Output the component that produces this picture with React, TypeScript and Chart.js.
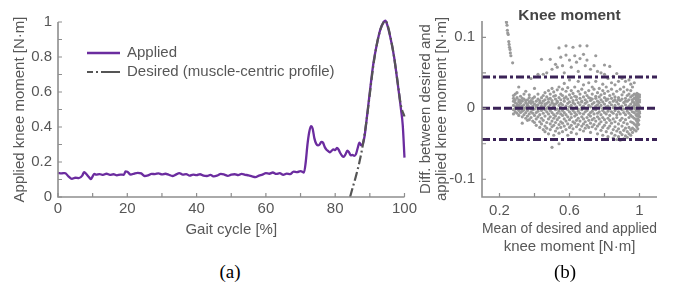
import React, { useEffect, useRef } from 'react';
import { Chart, registerables } from 'chart.js';

Chart.register(...registerables);

const SANS = "'Liberation Sans', Arial, sans-serif";
const TEXT = '#575757';
const AXIS = '#8e8e8e';
const PURPLE = '#6B2C9F';
const DARK = '#3B2357';
const GREY_LINE = '#555555';
const DOTS = '#9a9a9a';

// ---------- (a) knee moment over the gait cycle ----------
const gaitCycle = [
  0, 1, 2, 3, 4, 5, 6, 7, 7.5, 8, 9, 9.5, 10, 10.5, 11, 12, 13, 14, 15, 16, 17, 18, 19, 19.5, 20,
  21, 22, 23, 24, 25, 26, 27, 28, 29, 30, 31, 32, 33, 34, 35, 36, 37, 38, 39, 40, 41, 42, 43, 44,
  45, 46, 47, 48, 49, 50, 51, 52, 53, 54, 55, 56, 57, 58, 59, 60, 61, 62, 63, 64, 65, 66, 67, 68,
  69, 70, 71, 71.5, 72, 72.5, 73, 73.5, 74, 74.5, 75, 75.5, 76, 76.5, 77, 77.5, 78, 78.5, 79, 79.5,
  80, 80.5, 81, 81.5, 82, 82.5, 83, 83.5, 84, 84.5, 85, 85.5, 86, 86.5, 87, 87.5, 88, 88.5, 89, 90,
  91, 92, 93, 94, 94.5, 95, 96, 97, 98, 99, 99.5, 100,
];
const appliedMoment = [
  0.138, 0.135, 0.137, 0.118, 0.104, 0.11, 0.108, 0.122, 0.142, 0.135, 0.112, 0.102, 0.118, 0.132, 0.128,
  0.131, 0.126, 0.133, 0.127, 0.13, 0.124, 0.128, 0.127, 0.146, 0.144,
  0.128, 0.134, 0.138, 0.135, 0.12, 0.124, 0.132, 0.131, 0.135, 0.129, 0.133, 0.127, 0.12, 0.128, 0.137,
  0.128, 0.131, 0.122, 0.128, 0.125, 0.13, 0.122, 0.12, 0.126,
  0.118, 0.123, 0.132, 0.128, 0.121, 0.128, 0.13, 0.125, 0.132, 0.127, 0.124, 0.118, 0.114, 0.122, 0.128,
  0.136, 0.133, 0.14, 0.132, 0.136, 0.127, 0.134, 0.131, 0.145,
  0.142, 0.148, 0.14, 0.2, 0.3, 0.37, 0.405, 0.39, 0.335, 0.305, 0.295, 0.3, 0.315, 0.31, 0.285, 0.27,
  0.262, 0.255, 0.265, 0.272,
  0.268, 0.28, 0.27, 0.25, 0.235, 0.23, 0.245, 0.265, 0.255, 0.238, 0.24, 0.235, 0.245, 0.28, 0.31,
  0.295, 0.305, 0.35, 0.43, 0.6,
  0.76, 0.87, 0.955, 1.0, 1.008, 0.985, 0.905, 0.8, 0.655, 0.5, 0.41, 0.225,
];
const desiredCycle = [84.3, 85, 86, 87, 88, 89, 90, 91, 92, 93, 94, 94.5, 95, 96, 97, 98, 99, 100];
const desiredMoment = [0, 0.05, 0.12, 0.2, 0.3, 0.43, 0.59, 0.75, 0.87, 0.955, 1.0, 1.007, 0.99, 0.91, 0.8, 0.66, 0.52, 0.46];

const gaitTickMarks = [0, 10, 20, 30, 40, 50, 60, 70, 80, 90, 100];
const momentTickMarks = [0, 0.1, 0.2, 0.3, 0.4, 0.5, 0.6, 0.7, 0.8, 0.9, 1];
const legendLabels = ['Applied', 'Desired (muscle-centric profile)'];

// ---------- (b) Bland-Altman: difference vs mean ----------
const streakMean = [0.238, 0.24, 0.243, 0.245, 0.247, 0.25, 0.253, 0.255, 0.257, 0.26, 0.262, 0.265, 0.275];
const streakDiff = [0.124, 0.121, 0.117, 0.11, 0.106, 0.104, 0.094, 0.09, 0.086, 0.083, 0.078, 0.074, 0.064];

// mean of desired and applied [N·m] for each column of the cloud
const cloudMean = [
  0.28, 0.29, 0.3, 0.31, 0.32, 0.33, 0.34, 0.35, 0.36, 0.37, 0.38, 0.39, 0.4, 0.41, 0.42, 0.43, 0.44,
  0.45, 0.46, 0.47, 0.48, 0.49, 0.5, 0.51, 0.52, 0.53, 0.54, 0.55, 0.56, 0.57, 0.58, 0.59, 0.6, 0.61,
  0.62, 0.63, 0.64, 0.65, 0.66, 0.67, 0.68, 0.69, 0.7, 0.71, 0.72, 0.73, 0.74, 0.75, 0.76, 0.77, 0.78,
  0.79, 0.8, 0.81, 0.82, 0.83, 0.84, 0.85, 0.86, 0.87, 0.88, 0.89, 0.9, 0.91, 0.92, 0.93, 0.94, 0.95,
  0.96, 0.97, 0.98, 0.985, 0.99, 0.995, 1.0,
];
// differences in 10^-3 N·m for each column above
const cloudDiffMilli: number[][] = [
  [18, 10, 4, -2, -8, 14], [20, 8, 2, -5, 12, -1], [15, 6, 0, -7, 22, 3], [12, 4, -3, -10, 9, 30],
  [17, 7, -1, -6, 2, 11], [10, 3, -4, -12, 14, -21], [13, 5, -2, -9, 20, 0], [8, 1, -6, -14, 11, 24],
  [12, 4, -3, -11, 6, -17], [9, 2, -8, -16, 15, 19], [11, 0, -5, -13, 7, 42], [14, 3, -7, -18, 9, -2],
  [6, -1, -10, -20, 16, 28], [10, 2, -6, -15, 4, -24], [13, 5, -4, -12, 20, 48, -1], [8, 0, -9, -19, 11, -27],
  [15, 3, -3, -14, 7, 69, -22],
  [10, 1, -7, -17, 18, -30, 48], [12, 4, -2, -11, -25, 22, 6, -33], [16, 7, -5, -20, 0, -28, 50],
  [9, 2, -8, -15, 25, -36, 13], [14, 5, -3, -12, -22, -30, 20, 69], [11, 0, -6, -18, -26, 28, -55, 8, 55],
  [17, 3, -9, -14, -24, -38, 23, 6], [13, 6, -2, -11, -20, -32, 62, 18], [8, -1, -7, -16, -28, 26, 10, 58],
  [15, 4, -4, -13, -23, -35, -50, 30, 85], [12, 1, -8, -19, -27, 20, 7, 72], [18, 5, -3, -10, -21, -33, 27, 60],
  [10, 0, -6, -15, -25, 14, 50, 35], [16, 3, -9, -18, -30, 24, 75, 88], [13, 7, -2, -12, -22, -38, 29],
  [9, 2, -5, -16, -27, 19, 68, 40], [15, 4, -8, -13, -24, -34, 25, 58],
  [11, 0, -3, -19, -29, 21, 86, 8], [17, 6, -6, -11, -21, 30, 74], [12, 2, -9, -17, -26, -36, 65, 16],
  [8, -1, -4, -14, -23, 24, 52, 38], [14, 5, -7, -18, -30, 20, 70, 88], [10, 1, -2, -12, -25, 27, 9],
  [16, 3, -8, -15, -22, -32, 76, 33], [12, 7, -5, -19, -28, 22, 60], [9, 0, -3, -13, -24, 18, 88, 68],
  [15, 4, -9, -17, -27, 25, 36], [11, 2, -6, -11, -21, -34, 55, 14], [13, 6, -4, -16, -26, 20, 30],
  [8, -1, -8, -14, -23, 27, 60], [14, 3, -2, -18, -29, 17, 74, 38], [10, 5, -7, -12, -25, -36, 22, 52],
  [16, 1, -5, -15, -22, 28, 8], [12, 4, -9, -19, -31, 19, 50],
  [9, 0, -3, -13, -27, -38, 25, 34], [15, 6, -6, -16, -24, 21, 61, 48], [11, 2, -8, -20, -33, 13, 30],
  [13, 3, -4, -14, -28, -40, 24, 42], [8, -1, -10, -17, -25, 18, 59], [14, 5, -5, -21, -35, 27, 36],
  [10, 1, -7, -15, -30, -42, 20, 45], [12, 4, -3, -19, -26, -38, 16, 33], [9, 0, -9, -13, -32, -44, 24, 49],
  [15, 6, -5, -22, -29, -40, 12, 38], [11, 2, -8, -17, -34, -45, 27], [13, 3, -2, -14, -25, -37, 19, 42],
  [8, -1, -6, -20, -31, -43, 23, 30], [14, 5, -9, -16, -28, -39, 10, 38], [10, 1, -4, -22, -33, -41, 26, 18],
  [12, 3, -7, -13, -27, -36, 20, 40], [16, 6, -2, -10, -19, -30, 25, -38, 34],
  [18, 9, 2, -5, -12, -20, -28, 12, -34, 30], [20, 14, 8, 0, -6, -14, -22, -30, 4, 36],
  [19, 12, 5, -2, -9, -16, -24, -32, 16, 0], [21, 15, 7, 1, -4, -11, -18, -26, 10],
  [20, 13, 6, -1, -8, -15, -21, -29, 17, 3], [18, 11, 4, -3, -10, -17, -23, 9], [16, 9, 2, -5, -12, 19, -7, 12],
];

const upperLimit = 0.044;
const meanDifference = 0;
const lowerLimit = -0.044;
const meanTickLabels = [0.2, 0.6, 1];
const diffTickLabels = [-0.1, 0, 0.1];
const meanTickMarks = [0.2, 0.4, 0.6, 0.8, 1];
const diffTickMarks = [-0.1, -0.05, 0, 0.05, 0.1];

const fmt = (v: any) => String(Math.round(Number(v) * 100) / 100);

// ---------- plugins ----------
const matlabAxes = {
  id: 'matlabAxes',
  afterDatasetsDraw(chart: any, _args: any, opts: any) {
    const { ctx, chartArea: a, scales } = chart;
    ctx.save();
    ctx.strokeStyle = AXIS;
    ctx.lineWidth = 1.6;
    ctx.beginPath();
    ctx.moveTo(a.left, a.top);
    ctx.lineTo(a.left, a.bottom + 0.8);
    ctx.moveTo(a.left, a.bottom);
    ctx.lineTo(a.right, a.bottom);
    ctx.stroke();
    ctx.lineWidth = 1.2;
    ctx.beginPath();
    for (const v of opts.xTicks || []) {
      const p = scales.x.getPixelForValue(v);
      ctx.moveTo(p, a.bottom);
      ctx.lineTo(p, a.bottom - 4);
    }
    for (const v of opts.yTicks || []) {
      const p = scales.y.getPixelForValue(v);
      ctx.moveTo(a.left, p);
      ctx.lineTo(a.left + 4, p);
    }
    ctx.stroke();
    ctx.restore();
  },
};

const gaitLegend = {
  id: 'gaitLegend',
  afterDraw(chart: any) {
    const { ctx, chartArea: a } = chart;
    const x0 = a.left + 29;
    const x1 = a.left + 62;
    const y1 = a.top + 31;
    const y2 = a.top + 50;
    ctx.save();
    ctx.lineCap = 'butt';
    ctx.strokeStyle = PURPLE;
    ctx.lineWidth = 2.5;
    ctx.beginPath();
    ctx.moveTo(x0, y1);
    ctx.lineTo(x1, y1);
    ctx.stroke();
    ctx.strokeStyle = GREY_LINE;
    ctx.lineWidth = 2;
    ctx.setLineDash([6, 3, 2, 3, 19, 40]);
    ctx.beginPath();
    ctx.moveTo(x0, y2);
    ctx.lineTo(x1, y2);
    ctx.stroke();
    ctx.setLineDash([]);
    ctx.fillStyle = TEXT;
    ctx.font = `15px ${SANS}`;
    ctx.textBaseline = 'middle';
    ctx.textAlign = 'left';
    ctx.fillText(legendLabels[0], a.left + 69, y1);
    ctx.fillText(legendLabels[1], a.left + 69, y2);
    ctx.restore();
  },
};

const panelTitle = {
  id: 'panelTitle',
  afterDraw(chart: any, _args: any, opts: any) {
    const { ctx, chartArea: a } = chart;
    ctx.save();
    ctx.fillStyle = '#454545';
    ctx.font = `bold 15.5px ${SANS}`;
    ctx.textAlign = 'center';
    ctx.textBaseline = 'middle';
    ctx.fillText(opts.text, (a.left + a.right) / 2, a.top - 5);
    ctx.restore();
  },
};

const tickFont = { family: SANS, size: 15 };
const titleFont = { family: SANS, size: 15, lineHeight: 1.2 };

function GaitChart() {
  const ref = useRef<HTMLCanvasElement>(null);
  useEffect(() => {
    const applied = gaitCycle.map((x, i) => ({ x, y: appliedMoment[i] }));
    const desired = desiredCycle.map((x, i) => ({ x, y: desiredMoment[i] }));
    const chart = new Chart(ref.current!, {
      type: 'line',
      data: {
        datasets: [
          {
            label: legendLabels[1],
            data: desired,
            borderColor: GREY_LINE,
            borderWidth: 2.2,
            borderDash: [9, 3, 2, 3],
            pointRadius: 0,
            cubicInterpolationMode: 'monotone',
            clip: false,
          },
          {
            label: legendLabels[0],
            data: applied,
            borderColor: PURPLE,
            borderWidth: 2.3,
            pointRadius: 0,
            cubicInterpolationMode: 'monotone',
            clip: false,
          },
        ],
      },
      options: {
        responsive: false,
        animation: false,
        devicePixelRatio: 1,
        layout: { padding: { left: 0, right: 15, top: 22, bottom: 0 } },
        plugins: {
          legend: { display: false },
          tooltip: { enabled: false },
          matlabAxes: { xTicks: gaitTickMarks, yTicks: momentTickMarks },
        } as any,
        scales: {
          x: {
            type: 'linear',
            min: 0,
            max: 100,
            grid: { display: false, drawTicks: false },
            border: { display: false },
            ticks: { stepSize: 20, color: TEXT, font: tickFont, padding: 3, maxRotation: 0, autoSkip: false, callback: fmt },
            title: { display: true, text: 'Gait cycle [%]', color: TEXT, font: titleFont, padding: { top: 0, bottom: 3 } },
            afterFit: (s: any) => { s.height = 45; },
          },
          y: {
            type: 'linear',
            min: 0,
            max: 1,
            grid: { display: false, drawTicks: false },
            border: { display: false },
            ticks: { stepSize: 0.2, color: TEXT, font: tickFont, padding: 6, callback: fmt },
            title: { display: true, text: 'Applied knee moment [N·m]', color: TEXT, font: titleFont, padding: { top: 11, bottom: 0 } },
            afterFit: (s: any) => { s.width = 58; },
          },
        },
      },
      plugins: [matlabAxes, gaitLegend],
    } as any);
    return () => chart.destroy();
  }, []);
  return <canvas ref={ref} width={420} height={242} style={{ position: 'absolute', left: 0, top: 0 }} />;
}

function AgreementChart() {
  const ref = useRef<HTMLCanvasElement>(null);
  useEffect(() => {
    const points: { x: number; y: number }[] = [];
    streakMean.forEach((x, i) => points.push({ x, y: streakDiff[i] }));
    cloudMean.forEach((x, i) => cloudDiffMilli[i].forEach((d) => points.push({ x, y: d / 1000 })));
    const hline = (y: number) => [{ x: 0.1, y }, { x: 1.1, y }];
    const chart = new Chart(ref.current!, {
      type: 'scatter',
      data: {
        datasets: [
          { data: hline(upperLimit), showLine: true, borderColor: DARK, borderWidth: 3, borderDash: [8, 3, 3, 3], pointRadius: 0 },
          { data: hline(meanDifference), showLine: true, borderColor: DARK, borderWidth: 3, borderDash: [8, 3], pointRadius: 0 },
          { data: hline(lowerLimit), showLine: true, borderColor: DARK, borderWidth: 3, borderDash: [8, 3, 3, 3], pointRadius: 0 },
          { data: points, pointRadius: 1.6, pointBackgroundColor: DOTS, pointBorderWidth: 0, showLine: false },
        ],
      },
      options: {
        responsive: false,
        animation: false,
        devicePixelRatio: 1,
        layout: { padding: { left: 0, right: 22, top: 21, bottom: 0 } },
        plugins: {
          legend: { display: false },
          tooltip: { enabled: false },
          matlabAxes: { xTicks: meanTickMarks, yTicks: diffTickMarks },
          panelTitle: { text: 'Knee moment' },
        } as any,
        scales: {
          x: {
            type: 'linear',
            min: 0.1,
            max: 1.1,
            grid: { display: false, drawTicks: false },
            border: { display: false },
            ticks: { color: TEXT, font: tickFont, padding: 5, maxRotation: 0, autoSkip: false, callback: fmt },
            afterBuildTicks: (s: any) => { s.ticks = meanTickLabels.map((value) => ({ value })); },
            title: {
              display: true,
              text: ['Mean of desired and applied', 'knee moment [N·m]'],
              color: TEXT,
              font: titleFont,
              padding: { top: 0, bottom: 4 },
            },
            afterFit: (s: any) => { s.height = 63; },
          },
          y: {
            type: 'linear',
            min: -0.125,
            max: 0.123,
            grid: { display: false, drawTicks: false },
            border: { display: false },
            ticks: { color: TEXT, font: tickFont, padding: 7, callback: fmt },
            afterBuildTicks: (s: any) => { s.ticks = diffTickLabels.map((value) => ({ value })); },
            title: {
              display: true,
              text: ['Diff. between desired and', 'applied knee moment [N·m]'],
              color: TEXT,
              font: { family: SANS, size: 15, lineHeight: 1.07 },
              padding: { top: 8, bottom: 0 },
            },
            afterFit: (s: any) => { s.width = 72; },
          },
        },
      },
      plugins: [matlabAxes, panelTitle],
    } as any);
    return () => chart.destroy();
  }, []);
  return <canvas ref={ref} width={269} height={260} style={{ position: 'absolute', left: 410, top: 0 }} />;
}

const captionStyle: React.CSSProperties = {
  position: 'absolute',
  width: 60,
  top: 261,
  height: 22,
  lineHeight: '22px',
  textAlign: 'center',
  fontFamily: "'Liberation Serif', 'Times New Roman', serif",
  fontSize: 19,
  color: '#000',
};

export default function App() {
  return (
    <div style={{ position: 'absolute', left: 0, top: 0, width: 679, height: 286, background: '#fff', overflow: 'hidden' }}>
      <GaitChart />
      <AgreementChart />
      <div style={{ ...captionStyle, left: 200 }}>(a)</div>
      <div style={{ ...captionStyle, left: 535 }}>(b)</div>
    </div>
  );
}
